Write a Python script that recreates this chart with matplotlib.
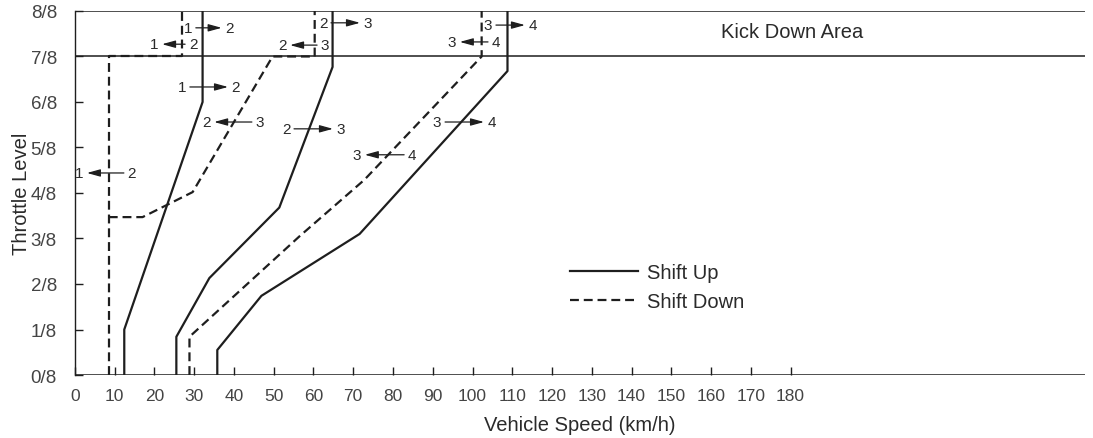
import matplotlib.pyplot as plt
import numpy as np

plt.rcParams['font.family'] = ['Liberation Sans', 'DejaVu Sans']

# shift lines: x = vehicle speed (km/h), y = throttle in eighths
up_12_x = [12.4, 12.4, 32.1, 32.1]
up_12_y = [0, 1.0, 6.0, 8]
up_23_x = [25.5, 25.5, 33.8, 51.4, 64.8, 64.8]
up_23_y = [0, 0.84, 2.13, 3.68, 6.77, 8]
up_34_x = [35.8, 35.8, 46.9, 71.6, 108.8, 108.8]
up_34_y = [0, 0.55, 1.74, 3.10, 6.68, 8]

down_12_x = [8.5, 8.5, 26.8, 26.8]
down_12_y = [0, 7, 7, 8]
down_23_x = [8.5, 17.0, 29.6, 49.7, 60.3, 60.3]
down_23_y = [3.47, 3.47, 4.02, 7, 7, 8]
down_34_x = [28.8, 28.8, 56.5, 72.8, 102.3, 102.3]
down_34_y = [0, 0.84, 3.05, 4.29, 7, 8]

# shift labels: (from gear, to gear, left digit x, right digit x, y)
up_labels = [
    ('1', '2', 28.4, 38.9, 7.63),
    ('1', '2', 26.9, 40.5, 6.33),
    ('2', '3', 53.1, 66.9, 5.41),
    ('2', '3', 62.4, 73.7, 7.74),
    ('3', '4', 103.9, 115.2, 7.69),
    ('3', '4', 91.1, 104.9, 5.56),
]
down_labels = [
    ('1', '2', 19.9, 29.7, 7.27),
    ('2', '3', 33.0, 46.5, 5.56),
    ('1', '2', 1.0, 14.3, 4.44),
    ('2', '3', 52.1, 62.9, 7.25),
    ('3', '4', 94.8, 105.9, 7.32),
    ('3', '4', 70.9, 84.8, 4.84),
]

x_ticks = np.arange(0, 190, 10)
y_ticks = np.arange(0, 9)
y_tick_labels = [f'{i}/8' for i in y_ticks]

ink = '#1e1e1e'
txt = '#2a2a2a'

fig = plt.figure(figsize=(10.93, 4.39), dpi=100)
fig.patch.set_facecolor('white')
ax = fig.add_axes([0.0686, 0.1435, 0.9238, 0.8292])
ax.set_xlim(0, 254)
ax.set_ylim(0, 8)

for s in ['top', 'right', 'bottom']:
    ax.spines[s].set_visible(False)
ax.spines['left'].set_linewidth(1.0)
ax.spines['left'].set_color(ink)

# frame lines: base, kick-down boundary, top
for yv in [0, 7, 8]:
    ax.axhline(yv, color=ink, lw=1.1, zorder=1)

dash = (0, (4, 2.2))
ax.plot(up_12_x, up_12_y, color=ink, lw=1.6, label='Shift Up', zorder=3)
ax.plot(up_23_x, up_23_y, color=ink, lw=1.6, zorder=3)
ax.plot(up_34_x, up_34_y, color=ink, lw=1.6, zorder=3)
ax.plot(down_12_x, down_12_y, color=ink, lw=1.6, ls=dash, label='Shift Down', zorder=3)
ax.plot(down_23_x, down_23_y, color=ink, lw=1.6, ls=dash, zorder=3)
ax.plot(down_34_x, down_34_y, color=ink, lw=1.6, ls=dash, zorder=3)

gap = 2.0
for a, b, xl, xr, yv in up_labels + down_labels:
    ax.text(xl, yv, a, ha='center', va='center', fontsize=11, color=txt, zorder=4)
    ax.text(xr, yv, b, ha='center', va='center', fontsize=11, color=txt, zorder=4)
head = '-|>,head_length=0.8,head_width=0.22'
for a, b, xl, xr, yv in up_labels:
    ax.annotate('', xy=(xr - gap, yv), xytext=(xl + gap, yv),
                arrowprops=dict(arrowstyle=head, color=ink, lw=0.9,
                                shrinkA=0, shrinkB=0), zorder=4)
for a, b, xl, xr, yv in down_labels:
    ax.annotate('', xy=(xl + gap, yv), xytext=(xr - gap, yv),
                arrowprops=dict(arrowstyle=head, color=ink, lw=0.9,
                                shrinkA=0, shrinkB=0), zorder=4)

ax.text(180.5, 7.55, 'Kick Down Area', ha='center', va='center', fontsize=14.5, color=txt)

ax.set_xticks(x_ticks)
ax.set_xticklabels([str(v) for v in x_ticks], fontsize=12.5, color='#444444')
ax.set_yticks(y_ticks)
ax.set_yticklabels(y_tick_labels, fontsize=13.5, color='#444444')
ax.tick_params(axis='x', direction='in', length=6, width=1.0, color=ink, pad=9)
ax.tick_params(axis='y', direction='in', length=6, width=1.0, color=ink, pad=13)

ax.set_xlabel('Vehicle Speed (km/h)', fontsize=14.5, color=txt, labelpad=9)
ax.set_ylabel('Throttle Level', fontsize=14.5, color=txt, labelpad=0)

ax.legend(loc='upper left', bbox_to_anchor=(570 / 1093, 1 - 264 / 439),
          bbox_transform=fig.transFigure, frameon=False, fontsize=14.5,
          handlelength=3.4, handletextpad=0.4, labelspacing=0.5,
          borderpad=0, borderaxespad=0, labelcolor=txt)

plt.savefig('out.png', dpi=100, facecolor='white')
